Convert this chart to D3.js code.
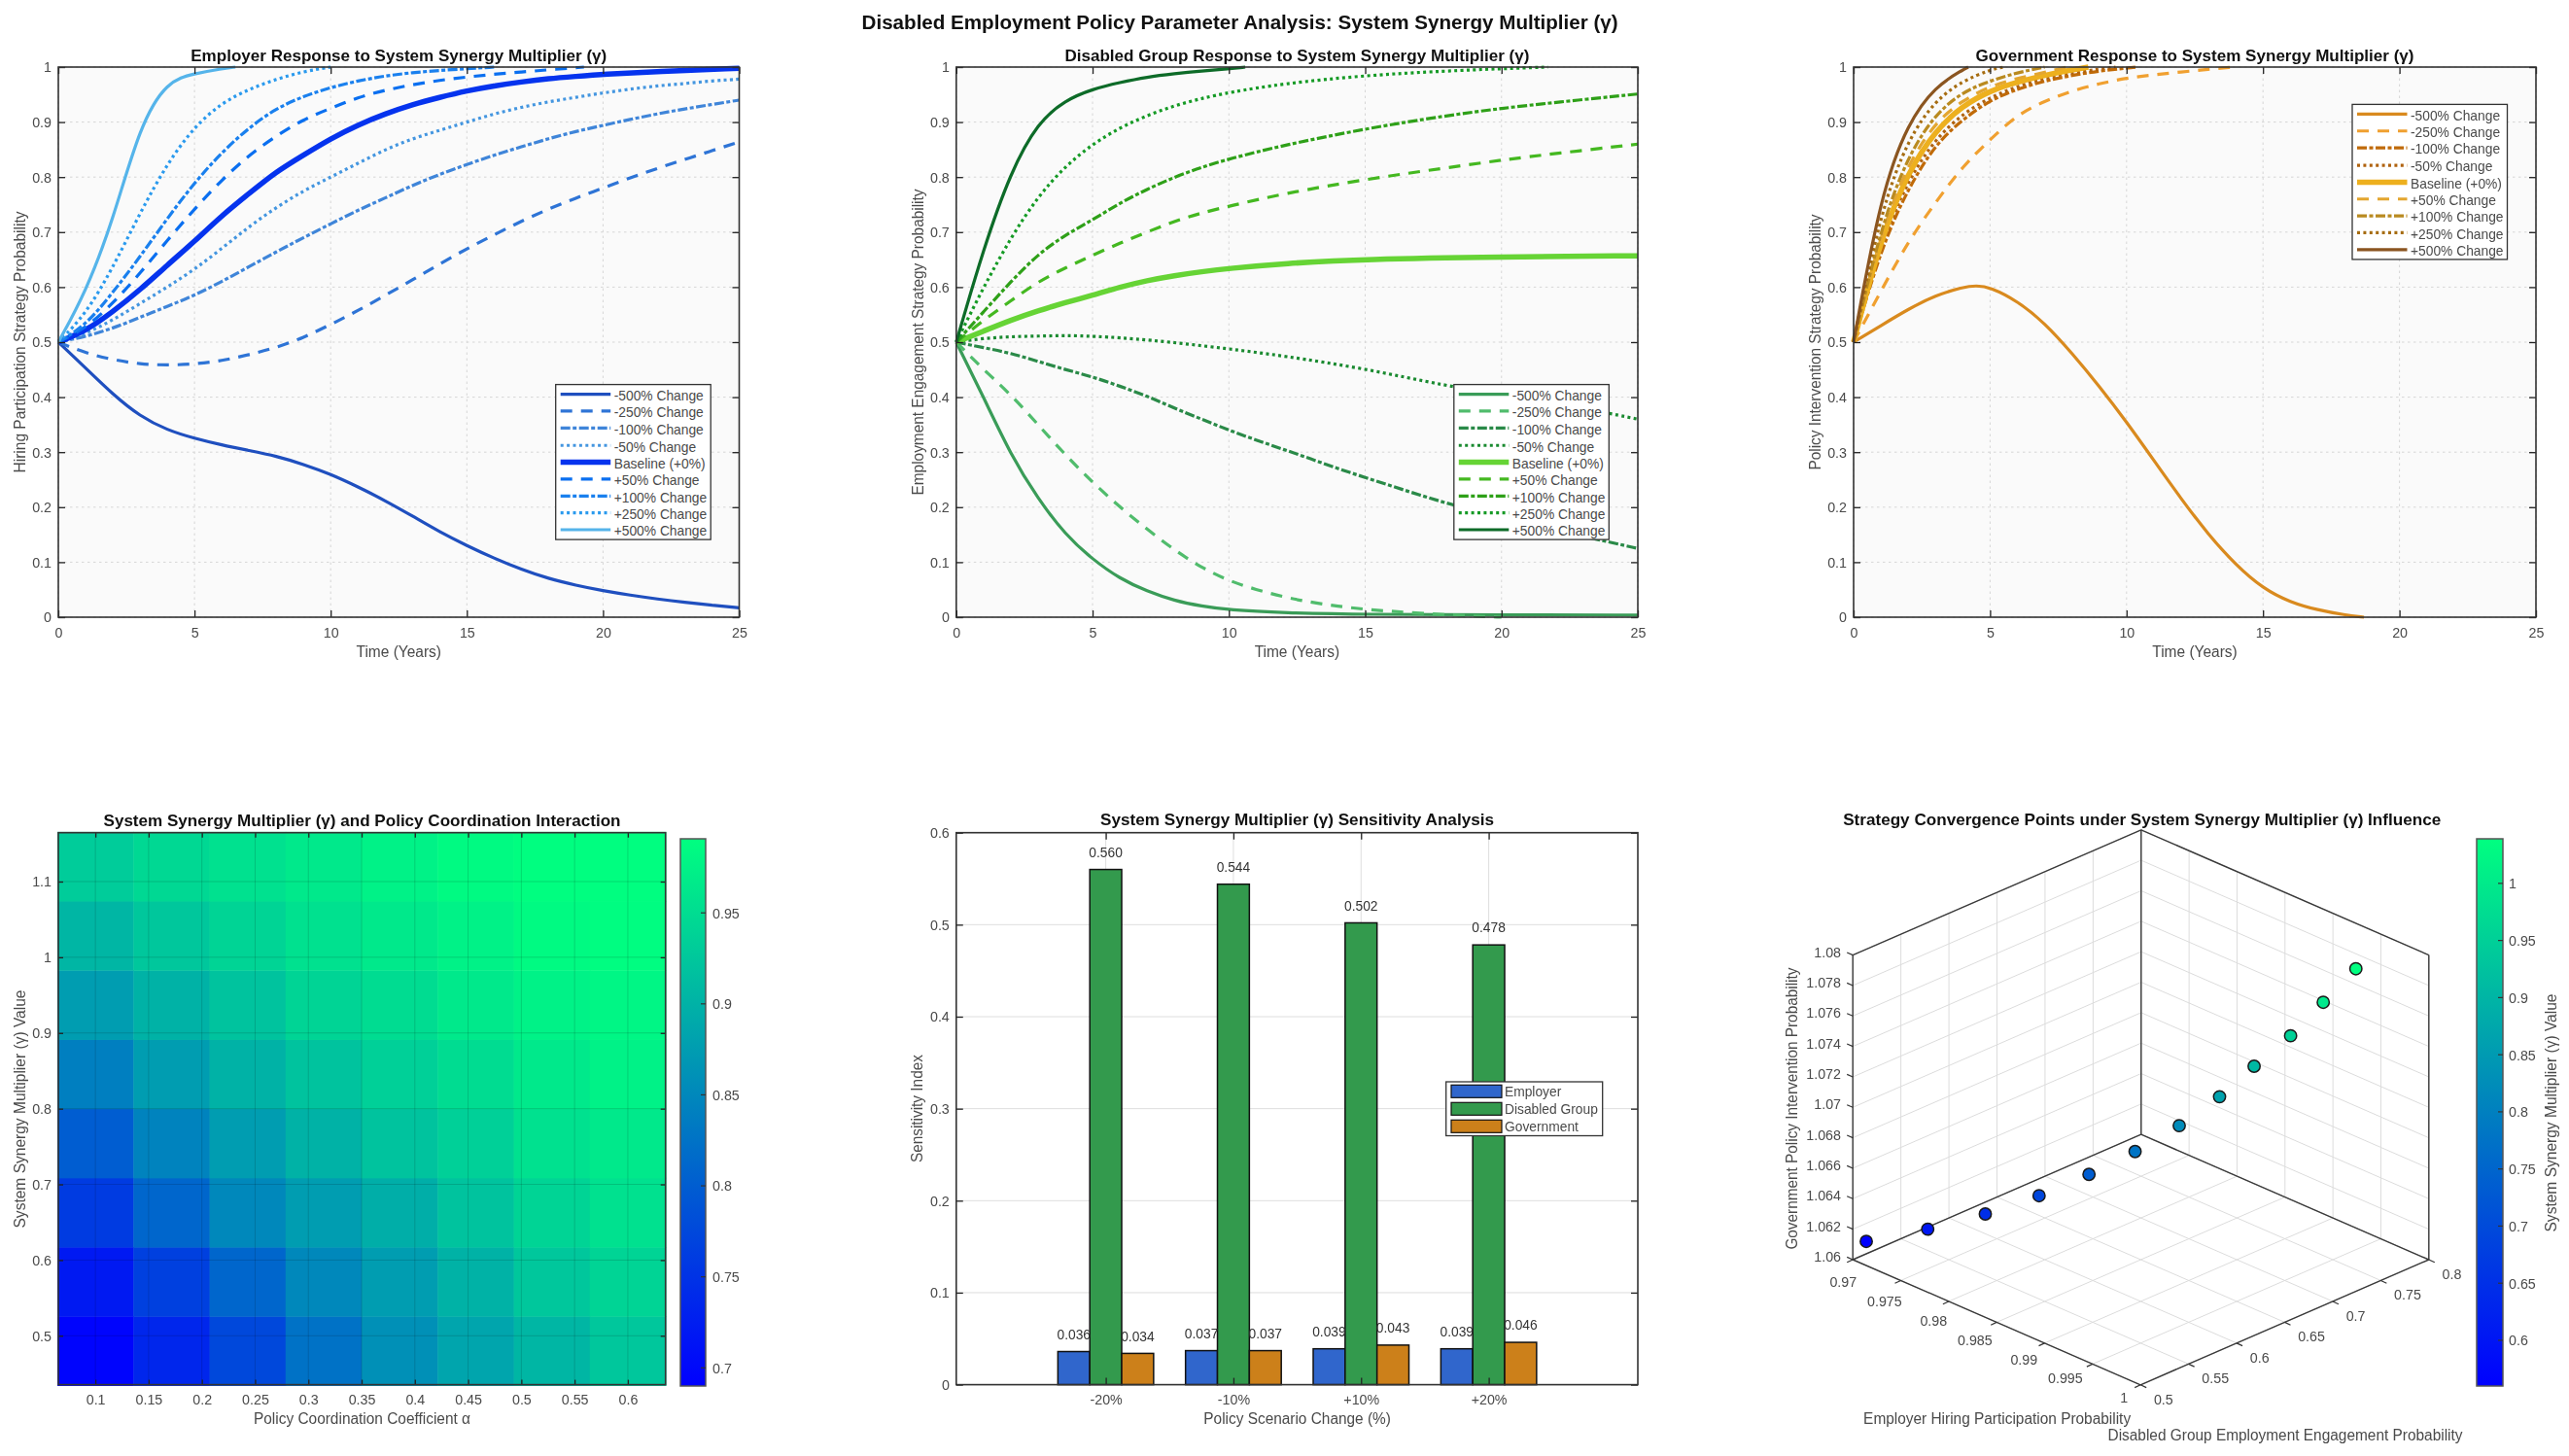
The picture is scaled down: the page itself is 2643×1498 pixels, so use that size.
<!DOCTYPE html>
<html><head><meta charset="utf-8">
<script src="https://cdn.jsdelivr.net/npm/d3@7"></script>
<style>html,body{margin:0;padding:0;background:#fff}svg{display:block;font-family:"Liberation Sans",Arial,sans-serif;filter:blur(.4px)}</style>
</head><body><svg id="c" width="2643" height="1498"></svg>
<script>
// ---------- data ----------
const seriesLabels=["-500% Change","-250% Change","-100% Change","-50% Change","Baseline (+0%)","+50% Change","+100% Change","+250% Change","+500% Change"];
const timeTicks=[0,5,10,15,20,25];
const probTicks=[0,.1,.2,.3,.4,.5,.6,.7,.8,.9,1];
// [year, probability] pairs
const empM500=[[0,.5],[1,.453],[2,.405],[3,.365],[4,.34],[5,.325],[6,.313],[7,.303],[8,.293],[9,.278],[10,.26],[11,.237],[12,.212],[13,.184],[14,.155],[15,.13],[16,.107],[17,.087],[18,.07],[19,.058],[20,.048],[21,.04],[22,.033],[23,.027],[24,.022],[25,.017]];
const empM250=[[0,.5],[1,.48],[2,.468],[3,.46],[4,.458],[5,.46],[6,.466],[7,.477],[8,.49],[9,.508],[10,.532],[11,.557],[12,.585],[13,.613],[14,.642],[15,.67],[16,.695],[17,.72],[18,.742],[19,.762],[20,.78],[21,.799],[22,.816],[23,.832],[24,.848],[25,.864]];
const empM100=[[0,.5],[1,.51],[2,.525],[3,.545],[4,.565],[5,.585],[6,.61],[7,.637],[8,.664],[9,.69],[10,.715],[11,.74],[12,.762],[13,.785],[14,.805],[15,.823],[16,.84],[17,.855],[18,.87],[19,.883],[20,.894],[21,.905],[22,.915],[23,.924],[24,.932],[25,.94]];
const empM50=[[0,.5],[1,.515],[2,.54],[3,.57],[4,.6],[5,.632],[6,.67],[7,.71],[8,.745],[9,.775],[10,.8],[11,.825],[12,.85],[13,.87],[14,.885],[15,.9],[16,.915],[17,.927],[18,.937],[19,.945],[20,.953],[21,.96],[22,.966],[23,.97],[24,.975],[25,.978]];
const empBase=[[0,.5],[1,.52],[2,.555],[3,.595],[4,.64],[5,.683],[6,.73],[7,.77],[8,.81],[9,.84],[10,.87],[11,.895],[12,.915],[13,.932],[14,.945],[15,.957],[16,.966],[17,.973],[18,.979],[19,.983],[20,.987],[22,.992],[25,.998]];
const empP50=[[0,.5],[1,.525],[2,.57],[3,.625],[4,.685],[5,.742],[6,.795],[7,.84],[8,.875],[9,.905],[10,.925],[11,.945],[12,.958],[13,.968],[14,.976],[15,.982],[16,.987],[17,.991],[18,.995],[19.3,1]];
const empP100=[[0,.5],[1,.53],[2,.59],[3,.655],[4,.725],[5,.79],[6,.845],[7,.89],[8,.925],[9,.947],[10,.963],[11,.975],[12,.984],[13,.99],[14,.994],[15,.997],[16,1]];
const empP250=[[0,.5],[1,.55],[2,.635],[3,.735],[4,.825],[5,.892],[6,.935],[7,.96],[8,.978],[9,.992],[10,1]];
const empP500=[[0,.5],[1,.59],[2,.72],[3,.895],[4,.975],[5,.988],[6,.997],[6.5,1]];
const disM500=[[0,.5],[1,.4],[2,.295],[3,.215],[4,.15],[5,.105],[6,.07],[7,.047],[8,.03],[9,.02],[10,.013],[12,.008],[15,.005],[20,.004],[25,.004]];
const disM250=[[0,.5],[1,.45],[2,.405],[3,.35],[4,.295],[5,.245],[6,.2],[7,.16],[8,.122],[9,.09],[10,.066],[11,.05],[12,.037],[13,.027],[14,.02],[15,.014],[17,.007],[19,.002],[20,0]];
const disM100=[[0,.5],[1,.49],[2,.48],[3,.465],[4,.45],[5,.437],[6,.42],[7,.402],[8,.38],[9,.36],[10,.34],[11,.322],[12,.305],[13,.288],[14,.27],[15,.254],[16,.238],[17,.222],[18,.207],[19,.194],[20,.18],[21,.17],[22,.158],[23,.147],[24,.136],[25,.125]];
const disM50=[[0,.5],[1,.507],[2,.51],[3,.511],[4,.512],[5,.511],[7,.505],[10,.488],[12,.475],[15,.452],[18,.42],[20,.405],[22,.39],[25,.36]];
const disBase=[[0,.5],[1,.52],[2,.54],[3,.557],[4,.572],[5,.585],[6,.6],[7,.612],[8,.621],[9,.628],[10,.634],[12,.643],[15,.651],[20,.655],[25,.657]];
const disP50=[[0,.5],[1,.54],[2,.575],[3,.61],[4,.635],[5,.658],[6,.68],[7,.7],[8,.72],[9,.735],[10,.747],[12,.77],[15,.796],[18,.817],[20,.831],[22,.843],[25,.86]];
const disP100=[[0,.5],[1,.555],[2,.61],[3,.66],[4,.695],[5,.722],[6,.753],[7,.778],[8,.8],[9,.818],[10,.833],[12,.858],[15,.888],[18,.912],[20,.925],[22,.936],[25,.951]];
const disP250=[[0,.5],[1,.6],[2,.69],[3,.765],[4,.82],[5,.86],[6,.89],[7,.912],[8,.93],[9,.943],[10,.954],[12,.97],[15,.985],[18,.993],[20,.997],[21.7,1]];
const disP500=[[0,.5],[1,.67],[2,.81],[3,.9],[4,.94],[5,.96],[6,.972],[7,.982],[8,.988],[9,.993],[10,.997],[10.6,1]];
const govM500=[[0,.5],[1,.53],[2,.56],[3,.585],[4,.6],[4.5,.603],[5,.6],[6,.575],[7,.535],[8,.48],[9,.42],[10,.355],[11,.285],[12,.215],[13,.15],[14,.095],[15,.052],[16,.027],[17,.013],[18,.004],[18.7,0]];
const govM250=[[0,.5],[1,.593],[2,.683],[3,.754],[4,.82],[5,.868],[6,.914],[7,.938],[8,.957],[9,.97],[10,.98],[11,.986],[12,.991],[13,.996],[13.9,1]];
const govM100=[[0,.5],[1,.67],[2,.78],[3,.86],[4,.905],[5,.94],[6,.96],[7,.975],[8,.985],[9,.993],[10,.998],[10.4,1]];
const govM50=[[0,.5],[1,.68],[2,.795],[3,.87],[4,.915],[5,.945],[6,.965],[7,.98],[8,.99],[9,.996],[9.6,1]];
const govBase=[[0,.5],[1,.69],[2,.81],[3,.885],[4,.93],[5,.957],[6,.973],[7,.985],[8,.995],[8.6,1]];
const govP50=[[0,.5],[1,.7],[2,.825],[3,.9],[4,.94],[5,.965],[6,.98],[7,.99],[7.8,1]];
const govP100=[[0,.5],[1,.71],[2,.84],[3,.915],[4,.955],[5,.975],[6,.99],[7,1]];
const govP250=[[0,.5],[1,.74],[2,.87],[3,.94],[4,.975],[5,.995],[5.5,1]];
const govP500=[[0,.5],[1,.77],[2,.9],[3,.965],[4,.995],[4.2,1]];
const employerLines=[empM500,empM250,empM100,empM50,empBase,empP50,empP100,empP250,empP500];
const disabledLines=[disM500,disM250,disM100,disM50,disBase,disP50,disP100,disP250,disP500];
const governmentLines=[govM500,govM250,govM100,govM50,govBase,govP50,govP100,govP250,govP500];
const employerColors=["#1f4fbf","#2e74d6","#3f85d9","#4496e0","#0533ee","#0a6ff0","#1a80ee","#2a9aee","#55b4ea"];
const disabledColors=["#3a9c58","#50bc6c","#2a8a48","#1a8a30","#66d435","#44b820","#2ea018","#159a25","#0d6b28"];
const governmentColors=["#d98a1e","#f0a030","#c06a08","#b0620e","#edb01e","#e3a630","#b98a20","#a66c10","#8b5520"];
const heatAlpha=[.1,.1714,.2429,.3143,.3857,.4571,.5286,.6];
const heatGamma=[.48,.5714,.6629,.7543,.8457,.9371,1.0286,1.12];
const heatValues=[
 [.695,.735,.775,.825,.86,.885,.905,.925],
 [.72,.765,.81,.85,.875,.90,.925,.94],
 [.76,.81,.85,.875,.895,.92,.94,.955],
 [.80,.845,.875,.90,.92,.935,.955,.965],
 [.84,.875,.90,.92,.935,.95,.965,.975],
 [.875,.90,.92,.94,.95,.965,.975,.98],
 [.905,.925,.94,.955,.965,.975,.985,.988],
 [.93,.945,.955,.965,.975,.985,.99,.99]];
const heatXTicks=[.1,.15,.2,.25,.3,.35,.4,.45,.5,.55,.6];
const heatYTicks=[.5,.6,.7,.8,.9,1,1.1];
const heatCbTicks=[.7,.75,.8,.85,.9,.95];
const scenarios=["-20%","-10%","+10%","+20%"];
const barSeries=["Employer","Disabled Group","Government"];
const barEmployer=[.036,.037,.039,.039];
const barDisabled=[.560,.544,.502,.478];
const barGovernment=[.034,.037,.043,.046];
const barColors=["#3066cc","#339a4d","#cc801a"];
const barTicks=[0,.1,.2,.3,.4,.5,.6];
const convX=[.9707,.9739,.9769,.9797,.9823,.9847,.9870,.9891,.9909,.9928,.9945,.9962];
const convY=[.507,.539,.569,.597,.623,.647,.670,.691,.709,.728,.745,.762];
const convZ=[1.0612,1.0620,1.0630,1.0642,1.0656,1.0671,1.0688,1.0707,1.0727,1.0747,1.0769,1.0791];
const convGamma=[.56,.604,.647,.691,.735,.778,.822,.865,.909,.953,.996,1.04];
const xTicks3d=[.97,.975,.98,.985,.99,.995,1];
const yTicks3d=[.5,.55,.6,.65,.7,.75,.8];
const zTicks3d=[1.06,1.062,1.064,1.066,1.068,1.07,1.072,1.074,1.076,1.078,1.08];
const cbTicks3d=[.6,.65,.7,.75,.8,.85,.9,.95,1];
// ---------- helpers ----------
const svg=d3.select("#c");
const INK="#333",TXT="#4a4a4a",FS=15.5,SQ=.92;
const dashes=[null,"12,9","10,2.5,4,2.5","3,3.4",null,"12,9","10,2.5,4,2.5","3,3.4",null];
const winter=(lo,hi)=>d3.scaleLinear().domain([lo,hi]).range(["#0000ff","#00ff80"]).clamp(true);
const fmt=d3.format("~g");
function squeeze(sel,k){
  sel.each(function(){const w=this.getComputedTextLength();if(w>0)d3.select(this).attr("textLength",w*k).attr("lengthAdjust","spacingAndGlyphs");});
}
function text(g,s,x,y,o={}){
  const t=g.append("text").text(s).attr("x",x).attr("y",y)
   .attr("font-size",o.size||FS).attr("fill",o.fill||TXT)
   .attr("text-anchor",o.anchor||"middle").attr("dy",o.dy==null?".35em":o.dy);
  if(o.bold)t.attr("font-weight","bold");
  if(o.len)t.attr("textLength",o.len).attr("lengthAdjust","spacingAndGlyphs");
  else squeeze(t,SQ);
  if(o.rot)t.attr("transform",`rotate(${o.rot} ${x} ${y})`);
  return t;
}
function axes(g,x,y,xt,yt,o={}){
  const [x0,x1]=x.range(),[y0,y1]=y.range();
  const tl=o.tick||7;
  const style=a=>{a.attr("font-size",FS).attr("font-family",null);a.select(".domain").remove();a.selectAll("line").attr("stroke",o.tickColor||"#222").attr("stroke-width",1.3);a.selectAll("text").attr("font-size",FS).attr("fill",TXT).call(squeeze,SQ);};
  g.append("g").attr("transform",`translate(0,${y0})`).call(d3.axisBottom(x).tickValues(xt).tickSize(-tl).tickPadding(9.5).tickFormat(o.xfmt||fmt)).call(style);
  g.append("g").attr("transform",`translate(0,${y1})`).call(d3.axisTop(x).tickValues(xt).tickSize(-tl).tickFormat("")).call(style);
  g.append("g").attr("transform",`translate(${x0},0)`).call(d3.axisLeft(y).tickValues(yt).tickSize(-tl).tickPadding(7).tickFormat(fmt)).call(style);
  g.append("g").attr("transform",`translate(${x1},0)`).call(d3.axisRight(y).tickValues(yt).tickSize(-tl).tickFormat("")).call(style);
  g.append("rect").attr("x",x0).attr("y",y1).attr("width",x1-x0).attr("height",y0-y1).attr("fill","none").attr("stroke",INK).attr("stroke-width",1.6);
}
function grid(g,x,y,xt,yt,stroke,dash,op=1){
  const [x0,x1]=x.range(),[y0,y1]=y.range();
  g.append("g").selectAll("line").data(xt).join("line").attr("x1",x).attr("x2",x).attr("y1",y0).attr("y2",y1).attr("stroke",stroke).attr("stroke-dasharray",dash).attr("stroke-width",1).attr("opacity",op);
  g.append("g").selectAll("line").data(yt).join("line").attr("y1",y).attr("y2",y).attr("x1",x0).attr("x2",x1).attr("stroke",stroke).attr("stroke-dasharray",dash).attr("stroke-width",1).attr("opacity",op);
}
function linePanel(box,lines,colors,labels,legendBox){
  const g=svg.append("g");
  const x=d3.scaleLinear().domain([0,25]).range([box.l,box.r]);
  const y=d3.scaleLinear().domain([0,1]).range([box.b,box.t]);
  g.append("rect").attr("x",box.l).attr("y",box.t).attr("width",box.r-box.l).attr("height",box.b-box.t).attr("fill","#fafafa");
  grid(g,x,y,timeTicks,probTicks,"#d6d6d6","2.5,3.5");
  const line=d3.line().x(d=>x(d[0])).y(d=>y(d[1])).curve(d3.curveBasis);
  lines.forEach((s,i)=>{
    g.append("path").datum(s).attr("d",line).attr("fill","none").attr("stroke",colors[i])
     .attr("stroke-width",i==4?5.5:3.2).attr("stroke-dasharray",dashes[i]);
  });
  axes(g,x,y,timeTicks,probTicks);
  text(g,labels.title,(box.l+box.r)/2,62.5,{bold:true,size:17,fill:"#111",dy:0,len:labels.titleLen});
  text(g,"Time (Years)",(box.l+box.r)/2,670,{size:16,len:87.5});
  text(g,labels.y,labels.yx,352,{size:16,rot:-90,len:labels.yLen});
  const L=legendBox;
  const lg=g.append("g");
  lg.append("rect").attr("x",L.x).attr("y",L.y).attr("width",159.5).attr("height",159.5).attr("fill","#fff").attr("stroke","#333").attr("stroke-width",1.3);
  seriesLabels.forEach((s,i)=>{
    const cy=L.y+10+i*17.35+(i>=3?0.6:0);
    lg.append("line").attr("x1",L.x+5).attr("x2",L.x+56.5).attr("y1",cy).attr("y2",cy).attr("stroke",colors[i]).attr("stroke-width",i==4?5.5:3.2).attr("stroke-dasharray",dashes[i]);
    text(lg,s,L.x+60,cy+1,{anchor:"start",size:15});
  });
}
// ---------- suptitle ----------
text(svg,"Disabled Employment Policy Parameter Analysis: System Synergy Multiplier (γ)",1275.6,29.5,{bold:true,size:20,fill:"#111",dy:0,len:778});
// ---------- line panels ----------
linePanel({l:60,r:760.5,t:69,b:635},employerLines,employerColors,{title:"Employer Response to System Synergy Multiplier (γ)",titleLen:428,y:"Hiring Participation Strategy Probability",yx:20,yLen:269},{x:571.7,y:395.6});
linePanel({l:983.8,r:1685,t:69,b:635},disabledLines,disabledColors,{title:"Disabled Group Response to System Synergy Multiplier (γ)",titleLen:478,y:"Employment Engagement Strategy Probability",yx:944.5,yLen:315},{x:1495.8,y:395.6});
linePanel({l:1907,r:2609,t:69,b:635},governmentLines,governmentColors,{title:"Government Response to System Synergy Multiplier (γ)",titleLen:451,y:"Policy Intervention Strategy Probability",yx:1867,yLen:263},{x:2420,y:107.4});
// ---------- colorbar ----------
function colorbar(o){
  const s=svg.append("g");
  const y=d3.scaleLinear().domain([o.lo,o.hi]).range([o.b,o.t]);
  const c=winter(o.lo,o.hi);
  const grad=s.append("defs").append("linearGradient").attr("id",o.id).attr("x1",0).attr("x2",0).attr("y1",1).attr("y2",0);
  grad.append("stop").attr("offset",0).attr("stop-color",c(o.lo));
  grad.append("stop").attr("offset",1).attr("stop-color",c(o.hi));
  s.append("rect").attr("x",o.x).attr("y",o.t).attr("width",o.w).attr("height",o.b-o.t).attr("fill",`url(#${o.id})`).attr("stroke","#555").attr("stroke-width",1.5);
  s.selectAll("line").data(o.ticks).join("line").attr("x1",o.x+o.w-5).attr("x2",o.x+o.w).attr("y1",y).attr("y2",y).attr("stroke","#333").attr("stroke-width",1.2);
  o.ticks.forEach(t=>text(s,fmt(t),o.lx,y(t),{anchor:"start"}));
}
// ---------- heatmap ----------
(function(){
  const g=svg.append("g");
  const x=d3.scaleLinear().domain([.0652,.6354]).range([60,684.7]);
  const y=d3.scaleLinear().domain([.4354,1.1646]).range([1424.6,856.7]);
  const col=winter(.69,.9907);
  const dx=(heatAlpha[1]-heatAlpha[0])/2,dy=(heatGamma[1]-heatGamma[0])/2;
  heatValues.forEach((row,j)=>row.forEach((v,i)=>{
    g.append("rect").attr("x",x(heatAlpha[i]-dx)).attr("y",y(heatGamma[j]+dy))
     .attr("width",x(heatAlpha[i]+dx)-x(heatAlpha[i]-dx)+.5).attr("height",y(heatGamma[j]-dy)-y(heatGamma[j]+dy)+.5)
     .attr("fill",col(v));
  }));
  grid(g,x,y,heatXTicks,heatYTicks,"#000",null,.14);
  axes(g,x,y,heatXTicks,heatYTicks,{tick:5});
  text(g,"System Synergy Multiplier (γ) and Policy Coordination Interaction",372.5,850,{bold:true,size:17,fill:"#111",dy:0,len:532});
  text(g,"Policy Coordination Coefficient α",372.5,1459.8,{size:16,len:223});
  text(g,"System Synergy Multiplier (γ) Value",20,1141,{size:16,rot:-90,len:245});
  colorbar({x:700,w:26,t:863,b:1426,lo:.69,hi:.9907,ticks:heatCbTicks,id:"cb1",lx:733});
})();
// ---------- bars ----------
(function(){
  const g=svg.append("g");
  const x=d3.scaleLinear().domain([-.171,5.168]).range([983.8,1685]);
  const y=d3.scaleLinear().domain([0,.6]).range([1424.6,856.7]);
  const idx=scenarios.map((_,i)=>i+1);
  grid(g,x,y,idx,barTicks,"#dedede",null);
  [barEmployer,barDisabled,barGovernment].forEach((vals,k)=>{
    vals.forEach((v,i)=>{
      const c=x(i+1+(k-1)*.25);
      const w=x(.25)-x(0);
      g.append("rect").attr("x",c-w/2).attr("y",y(v)).attr("width",w).attr("height",y(0)-y(v)).attr("fill",barColors[k]).attr("stroke","#111").attr("stroke-width",1.5);
    });
  });
  axes(g,x,y,idx,barTicks,{xfmt:(d)=>scenarios[d-1]});
  [barEmployer,barDisabled,barGovernment].forEach((vals,k)=>vals.forEach((v,i)=>{
    text(g,d3.format(".3f")(v),x(i+1+(k-1)*.25),y(v)-18,{size:15,fill:"#333"});
  }));
  text(g,"System Synergy Multiplier (γ) Sensitivity Analysis",1334.5,849,{bold:true,size:17,fill:"#111",dy:0,len:405});
  text(g,"Policy Scenario Change (%)",1334.6,1459.8,{size:16,len:192.5});
  text(g,"Sensitivity Index",943,1140.6,{size:16,rot:-90,len:111});
  const lg=g.append("g");
  lg.append("rect").attr("x",1487.7).attr("y",1113).attr("width",161).attr("height",55.5).attr("fill","#fff").attr("stroke","#333").attr("stroke-width",1.3);
  barSeries.forEach((s,i)=>{
    const cy=1122.8+i*18;
    lg.append("rect").attr("x",1493).attr("y",cy-6.5).attr("width",52).attr("height",13).attr("fill",barColors[i]).attr("stroke","#111").attr("stroke-width",1.2);
    text(lg,s,1548,cy,{anchor:"start",size:15});
  });
})();
// ---------- 3D scatter ----------
(function(){
  const g=svg.append("g");
  const sx=d3.scaleLinear().domain([.97,1]).range([0,1]);
  const sy=d3.scaleLinear().domain([.5,.8]).range([0,1]);
  const sz=d3.scaleLinear().domain([1.06,1.08]).range([0,1]);
  const P=(a,b,c)=>[1906.2+296*sx(a)+296.6*sy(b),1296+128.8*sx(a)-128.8*sy(b)-313.4*sz(c)];
  const seg=(p,q,stroke,w)=>g.append("line").attr("x1",p[0]).attr("y1",p[1]).attr("x2",q[0]).attr("y2",q[1]).attr("stroke",stroke).attr("stroke-width",w);
  const GC="#dcdcdc";
  xTicks3d.forEach(t=>{seg(P(t,.5,1.06),P(t,.8,1.06),GC,1);seg(P(t,.8,1.06),P(t,.8,1.08),GC,1);});
  yTicks3d.forEach(t=>{seg(P(.97,t,1.06),P(1,t,1.06),GC,1);seg(P(.97,t,1.06),P(.97,t,1.08),GC,1);});
  zTicks3d.forEach(t=>{seg(P(.97,.5,t),P(.97,.8,t),GC,1);seg(P(.97,.8,t),P(1,.8,t),GC,1);});
  [[[.97,.5,1.06],[1,.5,1.06]],[[1,.5,1.06],[1,.8,1.06]],[[.97,.5,1.06],[.97,.8,1.06]],[[.97,.8,1.06],[1,.8,1.06]],
   [[.97,.5,1.08],[.97,.8,1.08]],[[.97,.8,1.08],[1,.8,1.08]],
   [[.97,.5,1.06],[.97,.5,1.08]],[[.97,.8,1.06],[.97,.8,1.08]],[[1,.8,1.06],[1,.8,1.08]]]
   .forEach(([a,b])=>seg(P(...a),P(...b),"#3a3a3a",1.4));
  xTicks3d.forEach((t,i)=>{const p=P(t,.5,1.06);seg(p,[p[0]-6,p[1]+2.8],"#333",1.2);
    const f=i/6;text(g,fmt(t),p[0]+4-17*f,p[1]+23-10*f,{anchor:"end"});});
  yTicks3d.forEach(t=>{const p=P(1,t,1.06);seg(p,[p[0]+6,p[1]+2.8],"#333",1.2);
    text(g,fmt(t),p[0]+13.7,p[1]+14.6,{anchor:"start"});});
  zTicks3d.forEach(t=>{const p=P(.97,.5,t);seg(p,[p[0]-6,p[1]-2.6],"#333",1.2);
    text(g,fmt(t),1894,p[1]-3.5,{anchor:"end"});});
  const c=winter(.56,1.04);
  g.append("g").selectAll("circle").data(convGamma).join("circle")
   .attr("cx",(d,i)=>P(convX[i],convY[i],convZ[i])[0]).attr("cy",(d,i)=>P(convX[i],convY[i],convZ[i])[1])
   .attr("r",6.2).attr("fill",d=>c(d)).attr("stroke","#1a1a1a").attr("stroke-width",1.5);
  text(g,"Strategy Convergence Points under System Synergy Multiplier (γ) Influence",2203.7,849,{bold:true,size:17,fill:"#111",dy:0,len:615});
  text(g,"Employer Hiring Participation Probability",2054.6,1459.8,{size:16,len:275});
  text(g,"Disabled Group Employment Engagement Probability",2351,1476.8,{size:16,len:365});
  text(g,"Government Policy Intervention Probability",1843,1140.6,{size:16,rot:-90,len:290});
  text(g,"System Synergy Multiplier (γ) Value",2624,1145,{size:16,rot:-90,len:245});
  colorbar({x:2548,w:27,t:863,b:1426,lo:.56,hi:1.039,ticks:cbTicks3d,id:"cb2",lx:2581});
})();
</script></body></html>
